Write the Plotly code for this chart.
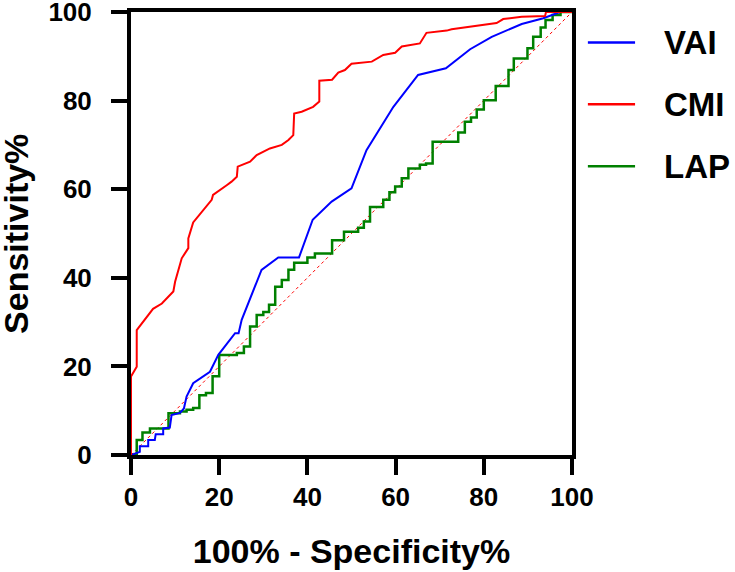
import plotly.graph_objects as go

# ---- data ----
series_names = ["VAI", "CMI", "LAP"]
series_colors = ["#0000FF", "#FF0000", "#008000"]

vai_x = [0, 2, 2, 3.9, 3.9, 5.4, 5.6, 7.3, 7.3, 8.8, 9.2, 11.1, 12.0, 12.6, 14.1, 17.9, 19.8,
         23.6, 24.4, 25.1, 29.6, 33.4, 38.1, 41.2, 45.5, 50.0, 53.4, 59.5, 65.1, 71.4, 76.9,
         81.8, 88.6, 93.5, 97.3, 100]
vai_y = [0, 0.7, 2, 2, 3.4, 3.4, 4.7, 4.7, 6.0, 6.2, 9.0, 9.5, 10.5, 13.2, 16.2, 18.8, 22.6,
         27.5, 27.5, 30.5, 41.8, 44.6, 44.6, 53.1, 57.2, 60.2, 68.8, 78.6, 85.8, 87.3, 91.6,
         94.4, 97.3, 98.6, 100, 100]

cmi_x = [0, 0, 1.3, 1.3, 5.0, 7.0, 9.6, 10.0, 11.5, 13.0, 13.0, 14.1, 18.3, 18.6, 21.7, 22.8,
         24.0, 24.2, 27.0, 28.5, 31.5, 34.2, 35.7, 36.8, 37.0, 38.7, 41.3, 42.7, 42.7, 45.6,
         47.0, 48.5, 50.0, 54.6, 57.2, 59.9, 61.4, 65.5, 67.0, 71.6, 72.7, 76.9, 79.9, 82.9,
         84.4, 88.6, 93.9, 94.1, 100]
cmi_y = [0, 17.7, 19.9, 28.2, 33.0, 34.2, 36.9, 39.1, 44.4, 46.7, 48.9, 52.5, 57.6, 58.7, 60.9,
         61.7, 62.8, 65.1, 66.2, 67.7, 69.2, 70.0, 71.1, 72.2, 77.1, 77.5, 78.6, 79.8, 84.5,
         84.7, 86.3, 86.9, 88.3, 88.8, 90.3, 90.8, 92.2, 92.9, 95.3, 95.8, 96.1, 96.7, 97.1,
         97.5, 98.4, 98.9, 99.1, 100, 100]

lap_x = [0, 1.3, 2.6, 4.3, 8.5, 11.1, 12.6, 14.1, 15.5, 17.0, 18.5, 20.0, 24.0, 25.6, 27.0,
         28.5, 30.0, 31.3, 32.7, 34.2, 35.7, 37.0, 40.0, 41.7, 45.6, 48.3, 51.5, 52.8, 54.2,
         57.2, 58.6, 59.9, 61.4, 62.9, 65.5, 66.9, 68.4, 74.2, 75.7, 77.1, 78.4, 80.0, 82.7,
         85.6, 86.8, 89.9, 91.2, 92.9, 94.0, 95.6, 97.4, 100]
lap_y = [0, 3.4, 5.1, 6.0, 9.4, 9.8, 10.2, 10.6, 13.5, 14.0, 17.8, 22.6, 23.0, 24.5, 29.0,
         31.6, 32.3, 33.9, 38.0, 39.5, 41.8, 43.4, 44.6, 45.5, 48.5, 50.4, 51.3, 52.7, 56.0,
         57.6, 59.3, 60.6, 62.5, 64.7, 65.5, 65.8, 70.7, 72.8, 75.2, 76.2, 78.0, 80.1, 83.3,
         86.9, 89.5, 91.8, 94.4, 96.5, 98.2, 99.3, 100, 100]

ref_x = [0, 100]
ref_y = [0, 100]

x_ticks = [0, 20, 40, 60, 80, 100]
y_ticks = [0, 20, 40, 60, 80, 100]

x_title = "100% - Specificity%"
y_title = "Sensitivity%"

FONT = "Liberation Sans, Arial, sans-serif"

fig = go.Figure()

fig.add_trace(go.Scatter(x=ref_x, y=ref_y, mode="lines",
                         line=dict(color="#FF0000", width=1, dash="dot"),
                         showlegend=False, hoverinfo="skip"))
fig.add_trace(go.Scatter(x=lap_x, y=lap_y, mode="lines", name=series_names[2],
                         line=dict(color=series_colors[2], width=2.5, shape="hv"),
                         showlegend=False))
fig.add_trace(go.Scatter(x=vai_x, y=vai_y, mode="lines", name=series_names[0],
                         line=dict(color=series_colors[0], width=2),
                         showlegend=False))
fig.add_trace(go.Scatter(x=cmi_x, y=cmi_y, mode="lines", name=series_names[1],
                         line=dict(color=series_colors[1], width=2),
                         showlegend=False))

# custom legend (keys + labels) placed to the right of the plot
legend_y = [0.931, 0.792, 0.652]
shapes = []
annotations = []
for name, color, ly in zip(series_names, series_colors, legend_y):
    shapes.append(dict(type="line", xref="paper", yref="paper",
                       x0=1.036, x1=1.143, y0=ly, y1=ly,
                       line=dict(color=color, width=2.5)))
    annotations.append(dict(xref="paper", yref="paper", x=1.203, y=ly,
                            text=name, showarrow=False, xanchor="left", yanchor="middle",
                            font=dict(family=FONT, size=33, color="black", weight="bold")))

# y-axis title as rotated text left of the tick labels
annotations.append(dict(xref="paper", yref="paper", x=-0.262, y=0.5,
                        text=y_title, textangle=-90, showarrow=False,
                        xanchor="center", yanchor="middle",
                        font=dict(family=FONT, size=34, color="black", weight="bold")))

axis_common = dict(
    range=[0, 100], showgrid=False, zeroline=False, automargin=False,
    showline=True, linecolor="black", linewidth=4, mirror=True,
    ticks="outside", ticklen=16, tickwidth=4, tickcolor="black",
    ticklabeloverflow="allow",
    tickfont=dict(family=FONT, size=26, color="black", weight="bold"),
)

fig.update_layout(
    width=735, height=572,
    margin=dict(l=131, r=163, t=12, b=117, autoexpand=False),
    paper_bgcolor="white", plot_bgcolor="white",
    shapes=shapes, annotations=annotations,
    xaxis=dict(**axis_common, tickmode="array", tickvals=x_ticks,
               ticktext=[str(v) for v in x_ticks], ticklabelstandoff=0,
               title=dict(text=x_title, standoff=29,
                          font=dict(family=FONT, size=34, color="black", weight="bold"))),
    yaxis=dict(**axis_common, tickmode="array", tickvals=y_ticks,
               ticktext=[str(v) for v in y_ticks], ticklabelstandoff=14),
)

fig.write_html("out.html", config={"displayModeBar": False},
               post_script="document.body.style.margin='0';document.body.style.overflow='hidden';")
